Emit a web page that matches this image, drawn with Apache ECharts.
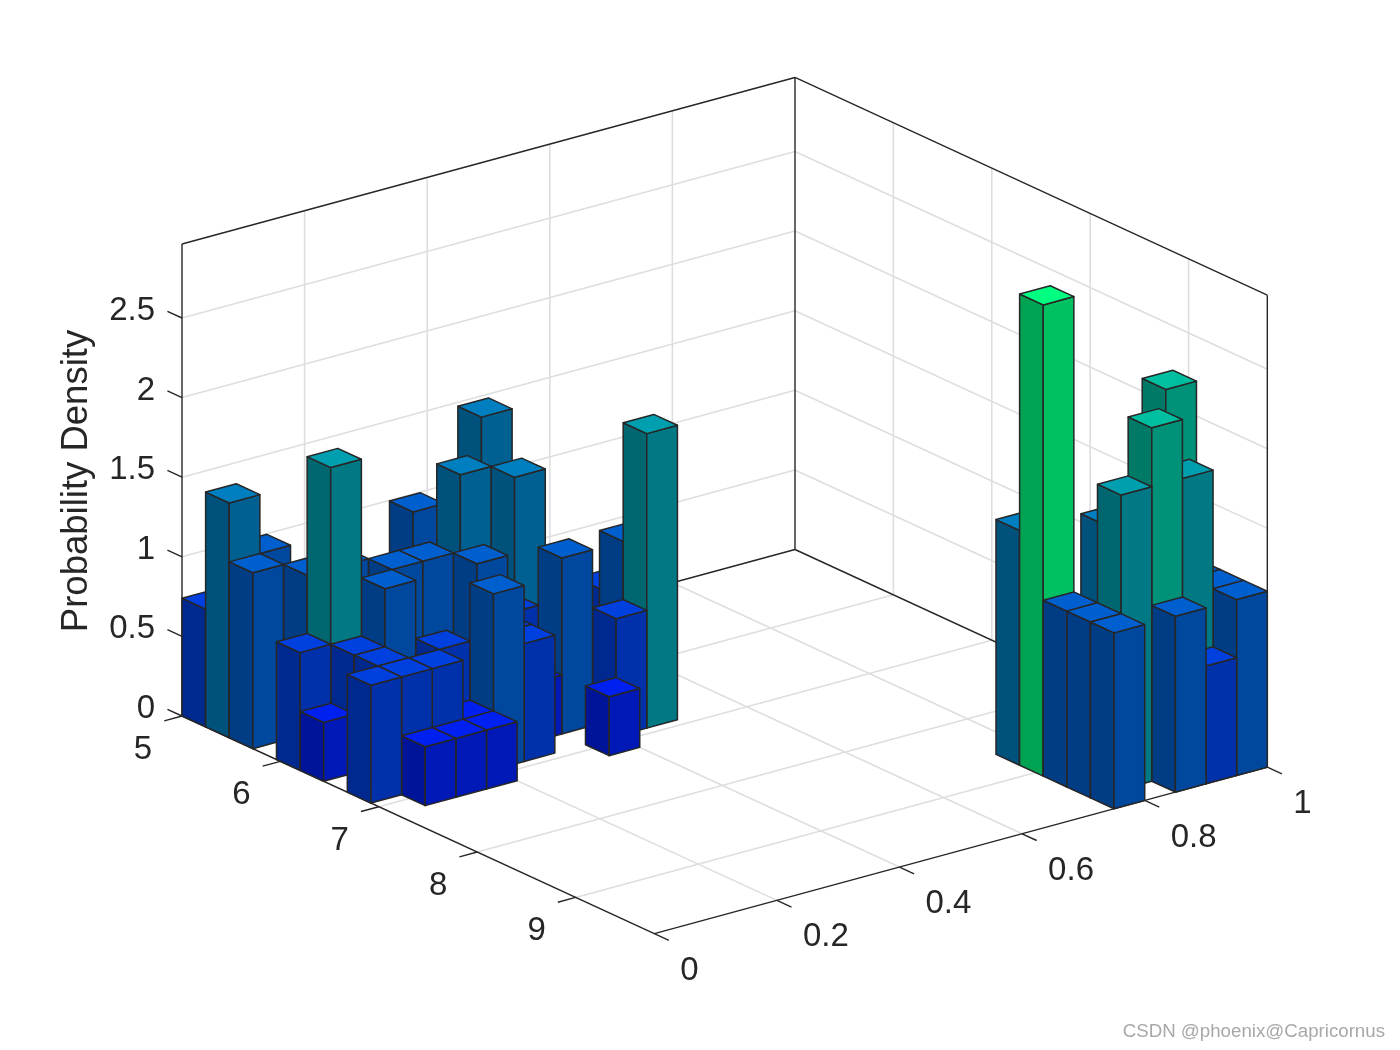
<!DOCTYPE html>
<html>
<head>
<meta charset="utf-8">
<style>html,body{margin:0;padding:0;background:#fff}#chart{width:1400px;height:1050px}</style>
<script src="https://cdn.jsdelivr.net/npm/echarts@6/dist/echarts.min.js"></script>
</head>
<body>
<div id="chart"></div>
<script>
// bin lower edges and bin heights
const barU = [0,0,0,0,0,0,
  0.05,0.05,0.05,0.05,0.05,0.05,0.05,
  0.10,0.10,0.10,0.10,
  0.15,0.15,0.15,0.15,
  0.20,0.20,
  0.25,0.25,0.25,
  0.30,0.30,0.30,0.30,
  0.35,0.35,0.35,
  0.40,
  0.45,0.45,0.45,0.45,
  0.75,0.75,0.75,0.75,0.75,
  0.80,
  0.85,0.85,0.85,
  0.90,0.90,
  0.95,0.95,0.95,0.95];
const barV = [5,5.24,5.48,5.96,6.2,6.68,
  5.24,5.72,5.96,6.2,6.44,6.68,6.92,
  5.72,6.2,6.68,6.92,
  5.96,6.44,6.68,6.92,
  5.96,6.68,
  6.2,6.44,6.68,
  5.24,5.72,6.2,6.44,
  5.96,6.44,6.92,
  6.68,
  5,6.2,6.44,6.68,
  8.6,8.84,9.08,9.32,9.56,
  9.32,
  8.84,9.32,9.56,
  9.32,9.56,
  8.84,9.08,9.32,9.56];
const barDensity = [0.74,1.475,1.105,0.74,0.37,0.74,
  1.105,1.105,1.85,0.74,0.74,0.74,0.37,
  1.105,1.105,0.74,0.37,
  1.105,0.74,0.37,0.37,
  1.105,1.105,
  1.105,0.74,0.74,
  1.105,1.475,0.74,0.37,
  1.475,1.105,0.37,
  0.74,
  1.475,0.74,1.105,1.85,
  1.475,2.96,1.105,1.105,1.105,
  1.85,
  1.475,2.22,1.105,
  1.85,0.74,
  2.22,1.105,1.105,1.105];
const uTicks = [0,0.2,0.4,0.6,0.8,1];
const vTicks = [5,6,7,8,9];
const zTicks = [0,0.5,1,1.5,2,2.5];
const zLabel = 'Probability Density';
const watermark = 'CSDN @phoenix@Capricornus';

const uRange = [0,1], vRange = [5,9.8], zRange = [0,2.965];
const binU = 0.05, binV = 0.24;

// orthographic view: axis directions expressed on the page plane
function project(u, v, z) {
  return [182 + 613*u + 98.4*(v-5), 716 - 166.5*u + 45.35*(v-5) - 159.2*z];
}
const FONT = '"Liberation Sans", Arial, sans-serif';
const INK = '#262626', GRID = '#dedede';

function winter(h, k) {
  const t = h / zRange[1];
  return 'rgb(0,' + Math.round(255*t*k) + ',' + Math.round(255*(1-t/2)*k) + ')';
}

function renderFrame(params, api) {
  const P = (u,v,z) => api.coord(project(u,v,z));
  const kids = [];
  const line = (a,b,color,w) => kids.push({type:'line', shape:{x1:a[0],y1:a[1],x2:b[0],y2:b[1]}, style:{stroke:color,lineWidth:w}, silent:true});
  const text = (x,y,t,align,size) => kids.push({type:'text', x, y, style:{text:String(t),x:0,y:0,fill:INK,font:size+'px '+FONT,align:align,verticalAlign:'middle'}, silent:true});
  const [u0,u1]=uRange,[v0,v1]=vRange,[z0,z1]=zRange;
  uTicks.forEach(u=>{ if(u>u0&&u<u1){ line(P(u,v0,z0),P(u,v1,z0),GRID,1.6); line(P(u,v0,z0),P(u,v0,z1),GRID,1.6);} });
  vTicks.forEach(v=>{ if(v>v0){ line(P(u0,v,z0),P(u1,v,z0),GRID,1.6); line(P(u1,v,z0),P(u1,v,z1),GRID,1.6);} });
  zTicks.forEach(z=>{ if(z>z0){ line(P(u0,v0,z),P(u1,v0,z),GRID,1.6); line(P(u1,v0,z),P(u1,v1,z),GRID,1.6);} });
  // box
  line(P(u0,v0,z0),P(u0,v1,z0),INK,1.4);
  line(P(u0,v1,z0),P(u1,v1,z0),INK,1.4);
  line(P(u0,v0,z0),P(u1,v0,z0),INK,1.4);
  line(P(u1,v0,z0),P(u1,v1,z0),INK,1.4);
  line(P(u0,v0,z0),P(u0,v0,z1),INK,1.4);
  line(P(u1,v0,z0),P(u1,v0,z1),INK,1.4);
  line(P(u1,v1,z0),P(u1,v1,z1),INK,1.4);
  line(P(u0,v0,z1),P(u1,v0,z1),INK,1.4);
  line(P(u1,v0,z1),P(u1,v1,z1),INK,1.4);
  // ticks and tick labels
  const dv = 0.148, du = 0.029;
  uTicks.forEach(u=>{ const a=P(u,v1,z0), b=P(u,v1+dv,z0); line(a,b,INK,1.4); text(a[0]+26,a[1]+37,u,'left',33); });
  vTicks.forEach(v=>{ const a=P(u0,v,z0), b=P(u0-du,v,z0); line(a,b,INK,1.4); text(a[0]-39,a[1]+34,v,'center',33); });
  zTicks.forEach(z=>{ const a=P(u0,v0,z), b=P(u0,v0-dv,z); line(a,b,INK,1.4); text(a[0]-27,a[1]-7,z,'right',33); });
  kids.push({type:'text', x:77, y:481, rotation:Math.PI/2, style:{text:zLabel,x:0,y:0,fill:INK,font:'36.5px '+FONT,align:'center',verticalAlign:'middle'}, silent:true});
  kids.push({type:'text', x:1385, y:1032, style:{text:watermark,x:0,y:0,fill:'#a8a8a8',font:'18.7px '+FONT,align:'right',verticalAlign:'middle'}, silent:true});
  return {type:'group', children:kids};
}

function renderBar(params, api) {
  const u = api.value(0), v = api.value(1), h = api.value(2);
  const P = (a,b,c) => api.coord(project(a,b,c));
  const edge = {stroke:INK, lineWidth:1.5, lineJoin:'round'};
  const poly = (pts,k) => ({type:'polygon', shape:{points:pts}, style:Object.assign({fill:winter(h,k)},edge), silent:true});
  return {type:'group', children:[
    poly([P(u,v,0),P(u,v+binV,0),P(u,v+binV,h),P(u,v,h)], 0.64),
    poly([P(u,v+binV,0),P(u+binU,v+binV,0),P(u+binU,v+binV,h),P(u,v+binV,h)], 0.76),
    poly([P(u,v,h),P(u+binU,v,h),P(u+binU,v+binV,h),P(u,v+binV,h)], 1)
  ]};
}

// painter's order: far corner (high u, low v) first
const barRows = barU.map((u,i)=>[u,barV[i],barDensity[i]])
  .sort((a,b)=> b[0]-a[0] || a[1]-b[1]);

const chart = echarts.init(document.getElementById('chart'), null, {renderer:'canvas'});
chart.setOption({
  animation:false,
  backgroundColor:'#ffffff',
  grid:{left:0,right:0,top:0,bottom:0,containLabel:false},
  xAxis:{type:'value',min:0,max:1400,show:false},
  yAxis:{type:'value',min:0,max:1050,inverse:true,show:false},
  series:[
    {type:'custom',coordinateSystem:'cartesian2d',clip:false,silent:true,z:1,renderItem:renderFrame,data:[[0,0,0]]},
    {type:'custom',coordinateSystem:'cartesian2d',clip:false,silent:true,z:2,renderItem:renderBar,data:barRows,progressive:0,
     dimensions:['u','v','density'],encode:{x:0,y:1}}
  ]
});
</script>
</body>
</html>
